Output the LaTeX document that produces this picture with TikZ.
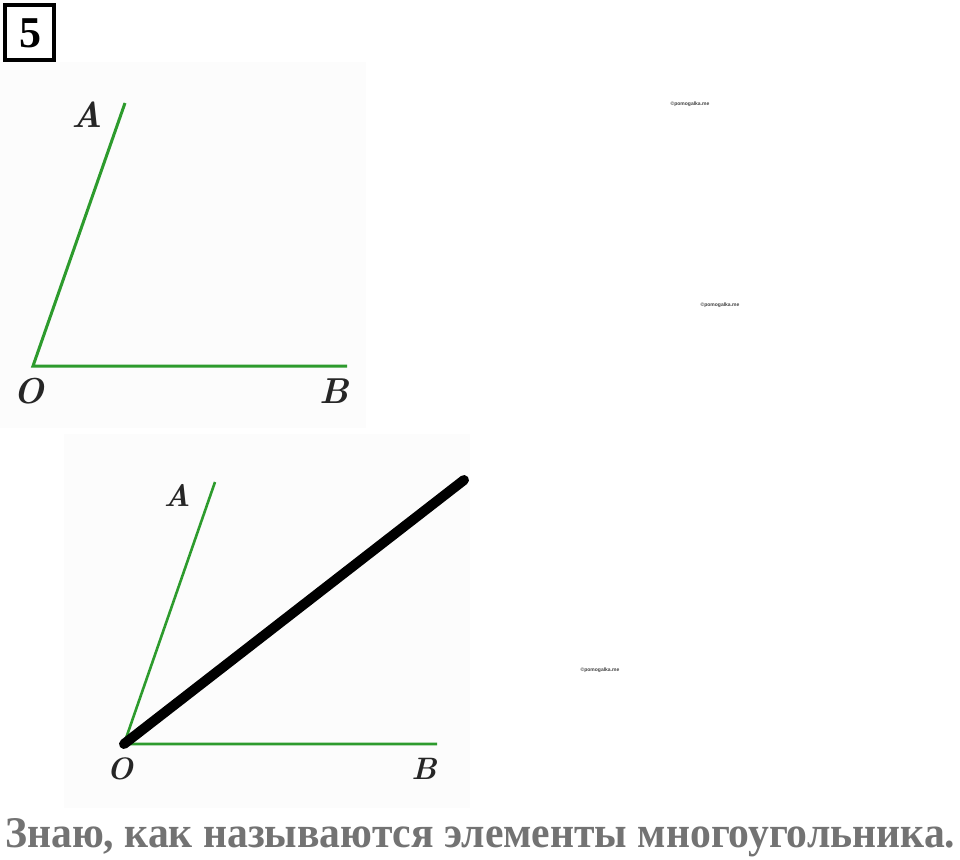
\documentclass[tikz,border=0pt]{standalone}
\usepackage{fontspec}
\newfontfamily\cyrfont{Liberation Serif}
\newfontfamily\wmfont{Liberation Sans}
\definecolor{raygreen}{RGB}{45,155,45}
\definecolor{captiongray}{RGB}{115,115,115}
\tikzset{
  ray/.style={draw=raygreen, line width=3pt, line cap=butt},
  bigray/.style={draw=black, line width=10pt, line cap=round},
  lblbig/.style={inner sep=0pt, text=black!85, font=\fontsize{36}{36}\selectfont\bfseries\itshape},
  lblsmall/.style={inner sep=0pt, text=black!85, font=\fontsize{31}{31}\selectfont\bfseries\itshape},
  wmark/.style={inner sep=0pt, text=black!75, font=\wmfont\fontsize{5}{5}\selectfont\bfseries},
}
\begin{document}
\begin{tikzpicture}[x=1pt,y=-1pt]
\useasboundingbox (0,0) rectangle (960,859);
\fill[white] (0,0) rectangle (960,859);
% faint backgrounds of the two pictures
\fill[black!1] (0,62) rectangle (366,428);
\fill[black!1] (64,434) rectangle (470,808);
% number box
\draw[line width=4pt] (5,5) rectangle (54,60);
\node[inner sep=0pt] (num) at (30,33) {\cyrfont\bfseries\fontsize{44}{44}\selectfont 5};
% top angle
\coordinate (O1) at (33,366);
\coordinate (A1) at (125,103);
\coordinate (B1) at (347,366);
\draw[ray] (A1) -- (O1) -- (B1);
\node[lblbig] (lA1) at (87,115) {A};
\node[lblbig] (lO1) at (29,391) {O};
\node[lblbig] (lB1) at (334,391) {B};
% bottom angle
\coordinate (O2) at (124,744);
\coordinate (A2) at (215,482);
\coordinate (B2) at (437,744);
\coordinate (C2) at (464,480);
\draw[ray, line width=2.6pt] (A2) -- (O2) -- (B2);
\draw[bigray] (O2) -- (C2);
\node[lblsmall] (lA2) at (177,495) {A};
\node[lblsmall] (lO2) at (120,769) {O};
\node[lblsmall] (lB2) at (424,769) {B};
% watermarks
\node[wmark] (w1) at (690,104) {©pomogalka.me};
\node[wmark] (w2) at (720,305) {©pomogalka.me};
\node[wmark] (w3) at (600,670) {©pomogalka.me};
% caption
\node[inner sep=0pt, anchor=base west, text=captiongray] (cap) at (5,847)
  {\resizebox{950pt}{29pt}{\cyrfont\bfseries Знаю, как называются элементы многоугольника.}};
\end{tikzpicture}
\end{document}
